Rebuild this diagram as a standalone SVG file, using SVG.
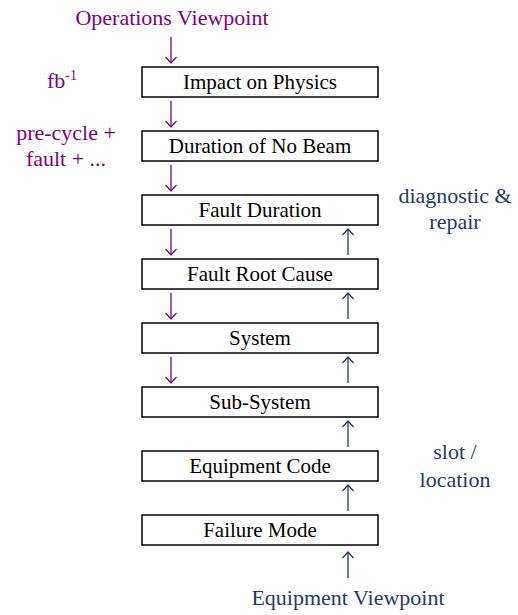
<svg xmlns="http://www.w3.org/2000/svg" width="518" height="615" viewBox="0 0 518 615">
<defs>
<marker id="hdP" viewBox="0 0 12 12" refX="11" refY="6" markerWidth="12" markerHeight="12" markerUnits="userSpaceOnUse" orient="auto">
<path d="M5,0.5 L11,6 L5,11.5" fill="none" stroke="#800080" stroke-width="1.3"/>
</marker>
<marker id="hdB" viewBox="0 0 12 12" refX="11" refY="6" markerWidth="12" markerHeight="12" markerUnits="userSpaceOnUse" orient="auto">
<path d="M5,0.5 L11,6 L5,11.5" fill="none" stroke="#1f3a6e" stroke-width="1.3"/>
</marker>
</defs>
<rect width="518" height="615" fill="#fff"/>
<text font-family="Liberation Serif" font-size="22" fill="#800080" text-anchor="middle" x="172" y="25">Operations Viewpoint</text>
<text font-family="Liberation Serif" font-size="22" fill="#800080" text-anchor="middle" x="62" y="88">fb<tspan font-size="14" dy="-8">-1</tspan></text>
<text font-family="Liberation Serif" font-size="22" fill="#800080" text-anchor="middle" x="66" y="140">pre-cycle +</text>
<text font-family="Liberation Serif" font-size="22" fill="#800080" text-anchor="middle" x="66" y="166">fault + ...</text>
<text font-family="Liberation Serif" font-size="22" fill="#1f3a6e" text-anchor="middle" x="455" y="203">diagnostic &amp;</text>
<text font-family="Liberation Serif" font-size="22" fill="#1f3a6e" text-anchor="middle" x="455" y="229">repair</text>
<text font-family="Liberation Serif" font-size="22" fill="#1f3a6e" text-anchor="middle" x="455" y="459">slot /</text>
<text font-family="Liberation Serif" font-size="22" fill="#1f3a6e" text-anchor="middle" x="455" y="487">location</text>
<text font-family="Liberation Serif" font-size="22" fill="#1f3a6e" text-anchor="middle" x="348" y="605">Equipment Viewpoint</text>
<g id="connectors" stroke-width="1.3" fill="none">
<g stroke="#800080" marker-end="url(#hdP)">
<line x1="171" y1="37" x2="171" y2="63"/>
<line x1="171" y1="101" x2="171" y2="127"/>
<line x1="171" y1="165" x2="171" y2="191"/>
<line x1="171" y1="229" x2="171" y2="255"/>
<line x1="171" y1="293" x2="171" y2="319"/>
<line x1="171" y1="357" x2="171" y2="383"/>
</g>
<g stroke="#1f3a6e" marker-end="url(#hdB)">
<line x1="348" y1="255" x2="348" y2="229"/>
<line x1="348" y1="319" x2="348" y2="293"/>
<line x1="348" y1="383" x2="348" y2="357"/>
<line x1="348" y1="447" x2="348" y2="421"/>
<line x1="348" y1="511" x2="348" y2="485"/>
<line x1="348" y1="578" x2="348" y2="552"/>
</g>
</g>
<g id="impact"><rect x="142" y="67" width="236" height="30" fill="#fff" stroke="#000" stroke-width="1.5"/><text font-family="Liberation Serif" font-size="21" text-anchor="middle" x="260" y="89">Impact on Physics</text></g>
<g id="noBeam"><rect x="142" y="131" width="236" height="30" fill="#fff" stroke="#000" stroke-width="1.5"/><text font-family="Liberation Serif" font-size="21" text-anchor="middle" x="260" y="153">Duration of No Beam</text></g>
<g id="faultDuration"><rect x="142" y="195" width="236" height="30" fill="#fff" stroke="#000" stroke-width="1.5"/><text font-family="Liberation Serif" font-size="21" text-anchor="middle" x="260" y="217">Fault Duration</text></g>
<g id="rootCause"><rect x="142" y="259" width="236" height="30" fill="#fff" stroke="#000" stroke-width="1.5"/><text font-family="Liberation Serif" font-size="21" text-anchor="middle" x="260" y="281">Fault Root Cause</text></g>
<g id="system"><rect x="142" y="323" width="236" height="30" fill="#fff" stroke="#000" stroke-width="1.5"/><text font-family="Liberation Serif" font-size="21" text-anchor="middle" x="260" y="345">System</text></g>
<g id="subSystem"><rect x="142" y="387" width="236" height="30" fill="#fff" stroke="#000" stroke-width="1.5"/><text font-family="Liberation Serif" font-size="21" text-anchor="middle" x="260" y="409">Sub-System</text></g>
<g id="equipmentCode"><rect x="142" y="451" width="236" height="30" fill="#fff" stroke="#000" stroke-width="1.5"/><text font-family="Liberation Serif" font-size="21" text-anchor="middle" x="260" y="473">Equipment Code</text></g>
<g id="failureMode"><rect x="142" y="515" width="236" height="30" fill="#fff" stroke="#000" stroke-width="1.5"/><text font-family="Liberation Serif" font-size="21" text-anchor="middle" x="260" y="537">Failure Mode</text></g>
</svg>
